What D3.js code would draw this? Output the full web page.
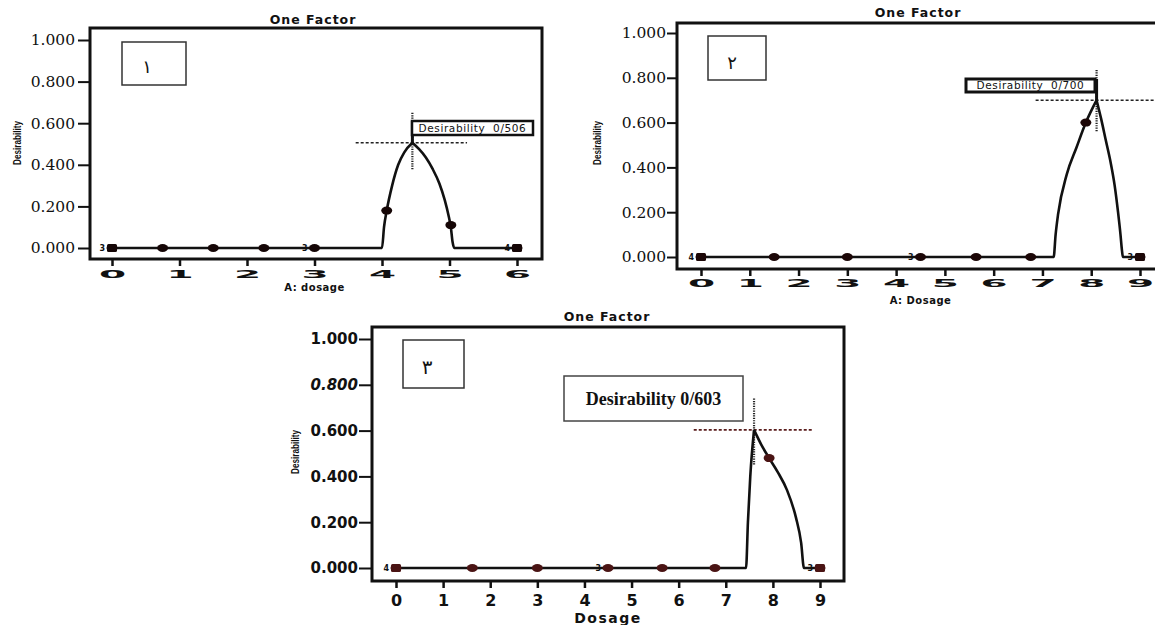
<!DOCTYPE html>
<html>
<head>
<meta charset="utf-8">
<script src="https://cdn.jsdelivr.net/npm/d3@7"></script>
<style>
body { margin: 0; background: #fff; }
svg { display: block; }
</style>
</head>
<body>
<svg id="chart" width="1155" height="625"></svg>
<script>
// shared ticks
var yTicks = [0, 0.2, 0.4, 0.6, 0.8, 1.0];
var xTicks6 = [0, 1, 2, 3, 4, 5, 6];
var xTicks9 = [0, 1, 2, 3, 4, 5, 6, 7, 8, 9];

// panel 1 (A: dosage)
var runX1 = [0, 0.75, 1.5, 2.25, 3, 4.07, 5.02, 6];
var runY1 = [0, 0, 0, 0, 0, 0.18, 0.11, 0];
var countX1 = [0, 3, 6];
var countN1 = ["3", "3", "4"];
var curveX1 = [0, 4.0, 4.03, 4.07, 4.15, 4.24, 4.33, 4.45, 4.55, 4.65, 4.75, 4.85, 4.93, 4.99, 5.02, 5.045, 5.07, 6];
var curveY1 = [0, 0, 0.1, 0.18, 0.3, 0.4, 0.46, 0.506, 0.475, 0.435, 0.38, 0.31, 0.23, 0.15, 0.10, 0.03, 0, 0];
var peak1 = [4.45, 0.506];
var label1 = "Desirability  0/506";

// panel 2 (A: Dosage)
var runX2 = [0, 1.5, 3, 4.5, 5.64, 6.76, 7.89, 9];
var runY2 = [0, 0, 0, 0, 0, 0, 0.6, 0];
var countX2 = [0, 4.5, 9];
var countN2 = ["4", "3", "3"];
var curveX2 = [0, 7.23, 7.27, 7.32, 7.5, 7.7, 7.89, 8.11, 8.2, 8.3, 8.4, 8.48, 8.55, 8.6, 8.63, 8.65, 9];
var curveY2 = [0, 0, 0.1, 0.19, 0.37, 0.49, 0.6, 0.70, 0.62, 0.52, 0.42, 0.32, 0.2, 0.1, 0.03, 0, 0];
var peak2 = [8.11, 0.70];
var label2 = "Desirability  0/700";

// panel 3 (Dosage)
var runX3 = [0, 1.62, 3, 4.5, 5.65, 6.77, 7.92, 9];
var runY3 = [0, 0, 0, 0, 0, 0, 0.48, 0];
var countX3 = [0, 4.5, 9];
var countN3 = ["4", "3", "3"];
var curveX3 = [0, 7.43, 7.47, 7.52, 7.6, 7.75, 7.92, 8.1, 8.3, 8.49, 8.6, 8.66, 9];
var curveY3 = [0, 0, 0.2, 0.4, 0.603, 0.54, 0.48, 0.42, 0.34, 0.22, 0.11, 0, 0];
var peak3 = [7.6, 0.603];
var label3 = "Desirability 0/603";

var svg = d3.select("#chart");

var zip = function(xs, ys){
	return xs.map(function(v, i){ return [v, ys[i]]; });
};

var panels = [
	{
		num: "\u0661", title: "One Factor", xlab: "A: dosage", xMax: 6, xTicks: xTicks6,
		xRange: [112, 517], yRange: [248, 40], frame: [90, 28, 542, 259],
		titleXY: [313, 24], xlabY: 291, ylabXY: [17, 143],
		ytick: 12, ypad: 3, ytickFont: "DejaVu Serif", ytickSize: 15.5,
		xtickOff: 15, xtickStyle: "wide", xlabSize: 10,
		numBox: [122, 42, 186, 85], numXY: [147, 67], numSize: 18,
		run: zip(runX1, runY1), counts: zip(countX1, countN1), curve: zip(curveX1, curveY1),
		peak: peak1, label: label1, dash: [3.61, 5.26], vdot: [0.65, 0.375],
		box: [412, 121, 533, 135], boxStroke: 2.5, link: true, labelStyle: "small",
		ink: "#150606"
	},
	{
		num: "\u0662", title: "One Factor", xlab: "A: Dosage", xMax: 9, xTicks: xTicks9,
		xRange: [701, 1140], yRange: [257, 33], frame: [677, 23, 1170, 269],
		titleXY: [918, 17], xlabY: 304, ylabXY: [597, 143],
		ytick: 10, ypad: 1, ytickFont: "DejaVu Serif", ytickSize: 15.5,
		xtickOff: 14, xtickStyle: "wide", xlabSize: 10,
		numBox: [708, 36, 766, 80], numXY: [732, 63], numSize: 18,
		run: zip(runX2, runY2), counts: zip(countX2, countN2), curve: zip(curveX2, curveY2),
		peak: peak2, label: label2, dash: [6.86, 9.6], vdot: [0.835, 0.56],
		box: [966, 79, 1095, 92], boxStroke: 3, link: true, labelStyle: "small",
		ink: "#1c0707"
	},
	{
		num: "\u0663", title: "One Factor", xlab: "Dosage", xMax: 9, xTicks: xTicks9,
		xRange: [396, 820], yRange: [568, 339], frame: [372, 327, 844, 581],
		titleXY: [607, 321], xlabY: 623, ylabXY: [295, 452],
		ytick: 13, ypad: 1, ytickFont: "DejaVu Sans", ytickSize: 15,
		xtickOff: 19, xtickStyle: "bold", xlabSize: 14,
		numBox: [403, 340, 464, 388], numXY: [427, 367], numSize: 20,
		run: zip(runX3, runY3), counts: zip(countX3, countN3), curve: zip(curveX3, curveY3),
		peak: peak3, label: label3, dash: [6.32, 8.83], vdot: [0.74, 0.45],
		box: [564, 376, 743, 421], boxStroke: 1.5, link: false, labelStyle: "big",
		ink: "#4a1414"
	}
];

var drawPanel = function(p){
	var g = svg.append("g");
	var x = d3.scaleLinear().domain([0, p.xMax]).range(p.xRange);
	var y = d3.scaleLinear().domain([0, 1]).range(p.yRange);
	var fL = p.frame[0], fT = p.frame[1], fR = p.frame[2], fB = p.frame[3];

	// title
	g.append("text")
		.attr("x", p.titleXY[0]).attr("y", p.titleXY[1])
		.attr("text-anchor", "middle")
		.style("font-family", "DejaVu Sans").style("font-weight", "bold")
		.style("font-size", "12.5px").style("letter-spacing", "1px")
		.style("fill", "#111")
		.text(p.title);

	// frame
	g.append("rect")
		.attr("x", fL).attr("y", fT)
		.attr("width", fR - fL).attr("height", fB - fT)
		.style("fill", "none").style("stroke", "#111").style("stroke-width", 3);

	// y axis
	var ya = g.append("g")
		.attr("transform", "translate(" + fL + ",0)")
		.call(d3.axisLeft(y).tickValues(yTicks).tickFormat(d3.format(".3f"))
			.tickSize(p.ytick).tickSizeOuter(0).tickPadding(p.ypad));
	ya.select(".domain").remove();
	ya.selectAll("line").style("stroke", "#111").style("stroke-width", 2);
	ya.selectAll("text")
		.style("font-family", p.ytickFont).style("font-size", p.ytickSize + "px")
		.style("font-weight", p.xtickStyle == "bold" ? "bold" : "normal")
		.style("font-style", function(d){ return (p.xtickStyle == "bold" && d == 0.8) ? "italic" : "normal"; })
		.style("fill", "#111");

	// x axis
	var xa = g.append("g")
		.attr("transform", "translate(0," + fB + ")")
		.call(d3.axisBottom(x).tickValues(p.xTicks).tickFormat(d3.format("d"))
			.tickSize(7).tickSizeOuter(0));
	xa.select(".domain").remove();
	xa.selectAll("line").style("stroke", "#111").style("stroke-width", 2.5);
	var xt = xa.selectAll("text").attr("y", 0).attr("dy", "0.36em").style("fill", "#111");
	if(p.xtickStyle == "wide"){
		xt.attr("transform", "translate(0," + p.xtickOff + ") scale(2.6,0.72)")
			.style("font-family", "DejaVu Sans").style("font-weight", "bold").style("font-size", "15px");
	} else {
		xt.attr("transform", "translate(0," + p.xtickOff + ")")
			.style("font-family", "DejaVu Sans").style("font-weight", "bold").style("font-size", "16px");
	}

	// axis titles
	g.append("text")
		.attr("x", (x(0) + x(p.xMax)) / 2).attr("y", p.xlabY)
		.attr("text-anchor", "middle")
		.style("font-family", "DejaVu Sans").style("font-weight", "bold")
		.style("font-size", p.xlabSize + "px").style("letter-spacing", p.xlabSize > 12 ? "1.5px" : "0.5px")
		.style("fill", "#111")
		.text(p.xlab);
	g.append("text")
		.attr("transform", "translate(" + p.ylabXY[0] + "," + p.ylabXY[1] + ") rotate(-90)")
		.attr("text-anchor", "middle").attr("dy", "0.35em")
		.attr("textLength", 44).attr("lengthAdjust", "spacingAndGlyphs")
		.style("font-family", "Liberation Sans Narrow, Liberation Sans").style("font-weight", "bold")
		.style("font-size", "11px").style("fill", "#111")
		.text("Desirability");

	// number box
	g.append("rect")
		.attr("x", p.numBox[0]).attr("y", p.numBox[1])
		.attr("width", p.numBox[2] - p.numBox[0]).attr("height", p.numBox[3] - p.numBox[1])
		.style("fill", "none").style("stroke", "#333").style("stroke-width", 1.5);
	g.append("text")
		.attr("x", p.numXY[0]).attr("y", p.numXY[1]).attr("dy", "0.35em")
		.attr("text-anchor", "middle")
		.style("font-family", "DejaVu Sans").style("font-size", p.numSize + "px")
		.style("fill", "#111")
		.text(p.num);

	// clip to frame
	var cid = "clip" + fL;
	g.append("clipPath").attr("id", cid).append("rect")
		.attr("x", fL).attr("y", fT - 30).attr("width", fR - fL).attr("height", fB - fT + 30);

	// annotation lines
	g.append("line")
		.attr("x1", x(p.dash[0])).attr("x2", Math.min(x(p.dash[1]), 1155))
		.attr("y1", y(p.peak[1])).attr("y2", y(p.peak[1]))
		.style("stroke", p.labelStyle == "big" ? "#5a1d1d" : "#222")
		.style("stroke-width", 1.6).style("stroke-dasharray", "3,2");
	g.append("line")
		.attr("x1", x(p.peak[0])).attr("x2", x(p.peak[0]))
		.attr("y1", y(p.vdot[0])).attr("y2", y(p.vdot[1]))
		.style("stroke", "#222").style("stroke-width", 2.2).style("stroke-dasharray", "1.2,1.2");
	if(p.link){
		g.append("line")
			.attr("x1", x(p.peak[0])).attr("x2", x(p.peak[0]))
			.attr("y1", y(p.peak[1])).attr("y2", p.box[1])
			.style("stroke", "#111").style("stroke-width", 3);
	}

	// curve: split at the peak so the cusp stays sharp
	var line = d3.line().x(function(d){ return x(d[0]); }).y(function(d){ return y(d[1]); })
		.curve(d3.curveMonotoneX);
	var pk = p.curve.findIndex(function(d){ return d[0] == p.peak[0]; });
	[p.curve.slice(0, pk + 1), p.curve.slice(pk)].forEach(function(seg){
		g.append("path")
			.attr("d", line(seg))
			.attr("clip-path", "url(#" + cid + ")")
			.style("fill", "none").style("stroke", "#111")
			.style("stroke-width", 2.6).style("stroke-linejoin", "round");
	});

	// design points
	var n = p.run.length;
	g.selectAll("g.pt")
		.data(p.run)
		.enter()
		.append("ellipse")
		.attr("cx", function(d){ return x(d[0]); })
		.attr("cy", function(d){ return y(d[1]); })
		.attr("rx", 5.5).attr("ry", 4)
		.style("fill", p.ink);
	g.selectAll("g.sq")
		.data([p.run[0], p.run[n - 1]])
		.enter()
		.append("rect")
		.attr("x", function(d){ return x(d[0]) - 5; })
		.attr("y", function(d){ return y(d[1]) - 4; })
		.attr("width", 10).attr("height", 8).attr("rx", 1.5)
		.style("fill", p.ink);

	// replicate counts
	g.selectAll("g.cnt")
		.data(p.counts)
		.enter()
		.append("text")
		.attr("x", function(d){ return x(d[0]) - 7; })
		.attr("y", function(d){ return y(0); })
		.attr("dy", "0.35em").attr("text-anchor", "end")
		.style("font-family", "DejaVu Sans").style("font-weight", "bold")
		.style("font-size", "8px").style("fill", "#111")
		.text(function(d){ return d[1]; });

	// desirability label box
	g.append("rect")
		.attr("x", p.box[0]).attr("y", p.box[1])
		.attr("width", p.box[2] - p.box[0]).attr("height", p.box[3] - p.box[1])
		.style("fill", "#fff").style("stroke", p.labelStyle == "big" ? "#444" : "#111")
		.style("stroke-width", p.boxStroke);
	var lt = g.append("text")
		.attr("x", (p.box[0] + p.box[2]) / 2).attr("y", (p.box[1] + p.box[3]) / 2)
		.attr("dy", "0.36em").attr("text-anchor", "middle")
		.style("fill", "#111")
		.text(p.label);
	if(p.labelStyle == "big"){
		lt.style("font-family", "Liberation Serif").style("font-weight", "bold").style("font-size", "18px");
	} else {
		lt.style("font-family", "DejaVu Sans").style("font-size", "10.5px").style("letter-spacing", "0.6px")
			.style("white-space", "pre");
	}
};

panels.forEach(drawPanel);
</script>
</body>
</html>
